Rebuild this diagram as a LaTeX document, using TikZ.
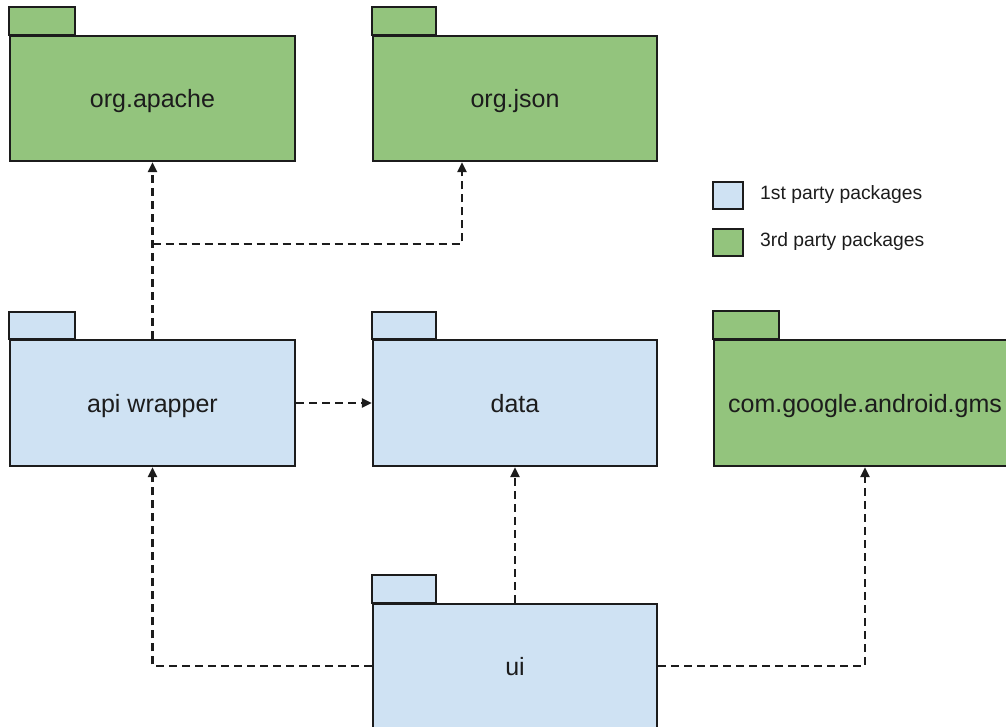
\documentclass[tikz,border=0pt]{standalone}
\usepackage{fontspec}
\setmainfont{Liberation Sans}
\usetikzlibrary{arrows.meta}
\definecolor{firstparty}{HTML}{CFE2F3}
\definecolor{thirdparty}{HTML}{93C47D}
\definecolor{ink}{HTML}{1C1C1C}
\tikzset{
  pkg/.style={draw=ink, line width=2.2pt, minimum width=285pt, minimum height=125pt,
    inner sep=0pt, text height=20pt, text depth=1pt, text=ink,
    font=\fontsize{25}{29}\selectfont},
  own/.style={pkg, fill=firstparty},
  ext/.style={pkg, fill=thirdparty},
  tabbox/.style={draw=ink, line width=2.2pt},
  dep/.style={draw=ink, line width=2.3pt, dash pattern=on 8pt off 5pt,
    -{Triangle[length=10pt,width=9pt]}},
  legbox/.style={draw=ink, line width=2pt, minimum width=30pt, minimum height=27pt, inner sep=0pt},
  legtext/.style={anchor=west, text=ink, font=\fontsize{19.3}{23}\selectfont, inner sep=0pt}
}
\begin{document}
\begin{tikzpicture}[x=1pt, y=-1pt]
\useasboundingbox (0,0) rectangle (1006,727);
\clip (0,0) rectangle (1006,727);

% package bodies
\node[ext] (apache) at (152.5,98.5) {org.apache};
\node[ext, minimum width=284pt] (json) at (515,98.5) {org.json};
\node[own, minimum height=126pt] (api) at (152.5,403) {api wrapper};
\node[own, minimum width=284pt, minimum height=126pt] (data) at (515,403) {data};
\node[ext, minimum width=302pt, minimum height=126pt] (gms) at (865,403) {com.google.android.gms};
\node[own, minimum width=284pt, minimum height=124pt] (ui) at (515,666) {ui};

% package tabs
\draw[tabbox, fill=thirdparty] (apache.north west) rectangle ++(66,-28);
\draw[tabbox, fill=thirdparty] (json.north west) rectangle ++(64,-28);
\draw[tabbox, fill=firstparty] (api.north west) rectangle ++(66,-27);
\draw[tabbox, fill=firstparty] (data.north west) rectangle ++(64,-27);
\draw[tabbox, fill=thirdparty] (gms.north west) rectangle ++(66,-28);
\draw[tabbox, fill=firstparty] (ui.north west) rectangle ++(64,-28);

% dependencies
\coordinate (jb) at (462,244);
\draw[dep] (api.north) -- (apache.south);
\draw[dep] (api.north |- jb) -| (jb |- json.south);
\draw[dep] (api.east) -- (data.west);
\draw[dep] (ui.north) -- (data.south);
\draw[dep] (ui.west) -| (api.south);
\draw[dep] (ui.east) -| (gms.south);

% legend
\node[legbox, fill=firstparty] (l1) at (728,195.5) {};
\node[legbox, fill=thirdparty] (l3) at (728,243) {};
\node[legtext] (t1) at (760,195) {1st party packages};
\node[legtext] (t3) at (760,242) {3rd party packages};
\end{tikzpicture}
\end{document}
